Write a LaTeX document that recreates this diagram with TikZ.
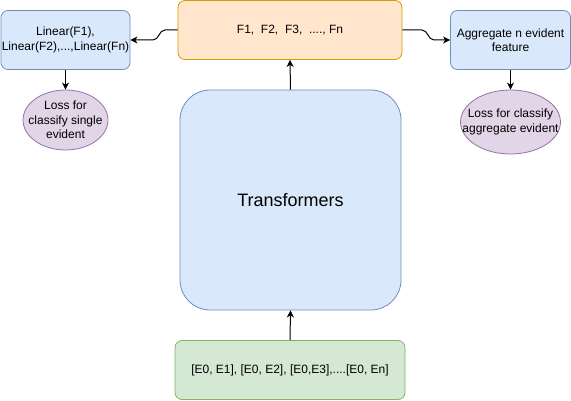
\documentclass[tikz,border=0pt]{standalone}
\usepackage{fontspec}
\setmainfont{Liberation Sans}
\usetikzlibrary{arrows.meta,shapes.geometric}
\definecolor{bluefill}{HTML}{DAE8FC}
\definecolor{bluedraw}{HTML}{6C8EBF}
\definecolor{orangefill}{HTML}{FFE6CC}
\definecolor{orangedraw}{HTML}{D79B00}
\definecolor{greenfill}{HTML}{D5E8D4}
\definecolor{greendraw}{HTML}{82B366}
\definecolor{purplefill}{HTML}{E1D5E7}
\definecolor{purpledraw}{HTML}{9673A6}
\tikzset{
  box/.style={draw, rounded corners=7pt, line width=0.8pt, inner sep=0pt, align=center,
    font=\fontsize{12}{14.5}\selectfont},
  bluebox/.style={box, fill=bluefill, draw=bluedraw},
  oval/.style={ellipse, draw=purpledraw, fill=purplefill, line width=0.8pt, inner sep=0pt,
    align=center},
  lbl/.style={align=center, inner sep=0pt, font=\fontsize{12}{14.5}\selectfont},
  arr/.style={-{Stealth[length=7pt,width=7pt,inset=2pt]}, line width=1pt},
}
\begin{document}
\begin{tikzpicture}[x=1pt,y=-1pt]
\useasboundingbox (0,0) rectangle (571,401);
\node[box, fill=orangefill, draw=orangedraw, minimum width=224pt, minimum height=59pt] (feat) at (290,30) {F1,\ \ F2,\ \ F3,\ \ ...., Fn};
\node[bluebox, minimum width=129pt, minimum height=59pt] (lin) at (65.5,40) {Linear(F1),\\Linear(F2),...,Linear(Fn)};
\node[bluebox, minimum width=120pt, minimum height=59pt] (agg) at (510.5,40) {Aggregate n evident\\feature};
\node[oval, minimum width=85pt, minimum height=60pt] (loss1) at (65.5,120) {};
\node[lbl] (loss1t) at (loss1.center) {Loss for\\classify single\\evident};
\node[oval, minimum width=100pt, minimum height=64pt] (loss2) at (510.5,122) {};
\node[lbl] (loss2t) at (loss2.center) {Loss for classify\\aggregate evident};
\node[box, fill=bluefill, draw=bluedraw, rounded corners=30pt, minimum width=221pt, minimum height=220pt, font=\fontsize{18}{22}\selectfont] (tr) at (290.5,200) {Transformers};
\node[box, fill=greenfill, draw=greendraw, minimum width=230pt, minimum height=59pt] (emb) at (290,370) {[E0, E1], [E0, E2], [E0,E3],....[E0, En]};
\coordinate (l1) at (165,30);
\coordinate (l2) at (153,40);
\coordinate (r1) at (422,30);
\coordinate (r2) at (434,40);
\draw[arr] (feat.west) -- (l1) to[out=180,in=0] (l2) -- (lin.east);
\draw[arr] (feat.east) -- (r1) to[out=0,in=180] (r2) -- (agg.west);
\draw[arr] (lin.south) -- (loss1.north);
\draw[arr] (agg.south) -- (loss2.north);
\draw[arr] (tr.north) -- (feat.south);
\draw[arr] (emb.north) -- (tr.south);
\end{tikzpicture}
\end{document}
